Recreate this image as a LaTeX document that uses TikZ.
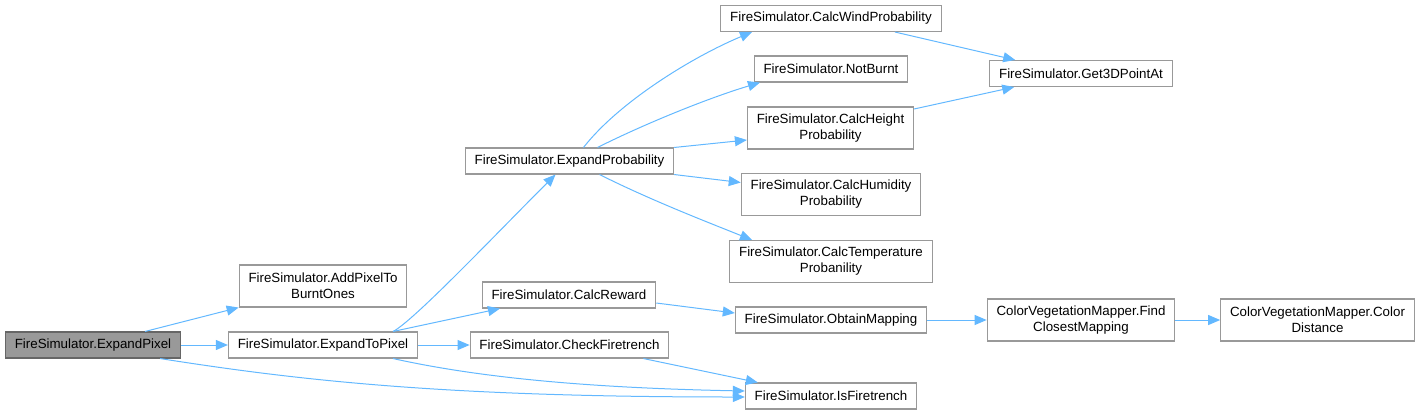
\documentclass[tikz,border=0pt]{standalone}
\usepackage{fontspec}
\setmainfont{Liberation Sans}
\usetikzlibrary{arrows.meta}
\definecolor{cedge}{HTML}{63B8FF}
\definecolor{cframe}{HTML}{999999}
\definecolor{croot}{HTML}{999999}
\definecolor{crootframe}{HTML}{666666}
\tikzset{
  every picture/.style={font=\fontsize{10}{12}\selectfont, line width=0.8pt},
  fn/.style={draw=cframe, fill=white, align=center, inner xsep=7pt, inner ysep=2pt, minimum height=19.5pt},
  fntwo/.style={fn, minimum height=31.5pt},
  rootfn/.style={fn, draw=crootframe, fill=croot},
  call/.style={-{Triangle[length=9pt, width=7.5pt]}, draw=cedge, line width=0.75pt},
}

\begin{document}
\begin{tikzpicture}[x=0.75pt, y=-0.75pt]
  \useasboundingbox (0,0) rectangle (1418,415);

  % column 1 and 2
  \node[rootfn] (expix)   at (93,345)   {FireSimulator.ExpandPixel};
  \node[fntwo]  (addpx)   at (323,286)  {FireSimulator.AddPixelTo\\BurntOnes};
  \node[fn]     (exptopx) at (323,345)  {FireSimulator.ExpandToPixel};

  % column 3
  \node[fn] (expprob) at (569.5,161) {FireSimulator.ExpandProbability};
  \node[fn] (calcrew) at (569,295)   {FireSimulator.CalcReward};
  \node[fn] (checkft) at (569.5,345) {FireSimulator.CheckFiretrench};

  % column 4
  \node[fn]    (wind)     at (831,18.5)  {FireSimulator.CalcWindProbability};
  \node[fn]    (notburnt) at (831,69)    {FireSimulator.NotBurnt};
  \node[fntwo] (height)   at (830.5,128) {FireSimulator.CalcHeight\\Probability};
  \node[fntwo] (humid)    at (831,194.5) {FireSimulator.CalcHumidity\\Probability};
  \node[fntwo] (temp)     at (831,261.5) {FireSimulator.CalcTemperature\\Probanility};
  \node[fn]    (obtmap)   at (831,320)   {FireSimulator.ObtainMapping};
  \node[fn]    (isft)     at (831,396)   {FireSimulator.IsFiretrench};

  % column 5 and 6
  \node[fn]    (get3d)   at (1081,73.5)  {FireSimulator.Get3DPointAt};
  \node[fntwo] (findmap) at (1081,320)   {ColorVegetationMapper.Find\\ClosestMapping};
  \node[fntwo] (coldist) at (1317.5,320) {ColorVegetationMapper.Color\\Distance};

  % from ExpandPixel
  \draw[call] ([shift={(-36,0)}]expix.north east) -- (addpx.south west);
  \draw[call] (expix) -- (exptopx);
  \draw[call] ([shift={(-21,0)}]expix.south east) .. controls +(140,22) and +(-300,0) .. ([shift={(0,1)}]isft.west);

  % from ExpandToPixel
  \draw[call] ([shift={(70,0)}]exptopx.north) .. controls +(20,-10) and +(-60,60) .. ([shift={(-14,0)}]expprob.south);
  \draw[call] ([shift={(70,0)}]exptopx.north) -- ([shift={(-69,0)}]calcrew.south);
  \draw[call] (exptopx) -- (checkft);
  \draw[call] ([shift={(70,0)}]exptopx.south) .. controls +(90,20) and +(-150,-3) .. ([shift={(0,-5)}]isft.west);
  \draw[call] ([shift={(-26,0)}]checkft.south east) -- ([shift={(13,0)}]isft.north west);

  % from CalcReward
  \draw[call] ([shift={(0,8)}]calcrew.east) -- ([shift={(0,-7)}]obtmap.west);
  \draw[call] (obtmap) -- (findmap);
  \draw[call] (findmap) -- (coldist);

  % from ExpandProbability
  \draw[call] ([shift={(14,0)}]expprob.north) .. controls +(35,-45) and +(-60,25) .. ([shift={(-79,0)}]wind.south);
  \draw[call] ([shift={(28,0)}]expprob.north) .. controls +(50,-25) and +(-50,15) .. ([shift={(-71,0)}]notburnt.south);
  \draw[call] (expprob.north east) -- ([shift={(0,12)}]height.west);
  \draw[call] (expprob.south east) -- ([shift={(0,-12)}]humid.west);
  \draw[call] ([shift={(30,0)}]expprob.south) .. controls +(50,25) and +(-50,-20) .. ([shift={(-79,0)}]temp.north);

  % to Get3DPointAt
  \draw[call] ([shift={(64,0)}]wind.south) -- ([shift={(26,0)}]get3d.north west);
  \draw[call] ([shift={(0,-19)}]height.east) -- ([shift={(25,0)}]get3d.south west);
\end{tikzpicture}
\end{document}
